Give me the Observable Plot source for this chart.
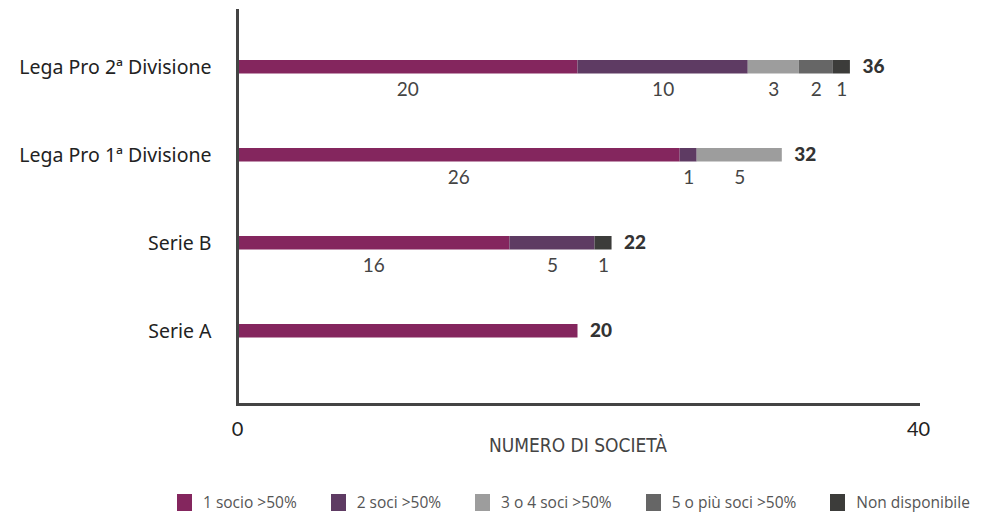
<!DOCTYPE html>
<html>
<head>
<meta charset="utf-8">
<script src="https://cdn.jsdelivr.net/npm/d3@7"></script>
<script src="https://cdn.jsdelivr.net/npm/@observablehq/plot@0.6"></script>
<style>
  body { margin: 0; background: #fff; }
  #chart { width: 981px; height: 490px; }
  .legend { display: flex; justify-content: flex-start; gap: 34px; margin-top: 2px; padding-left: 177px;
            font-family: "Open Sans", sans-serif; font-size: 15.5px; line-height: 20px; color: #555; }
  .legend .item { display: flex; align-items: center; gap: 11px; white-space: nowrap; }
  .legend .sw { width: 15px; height: 17px; display: inline-block; }
</style>
</head>
<body>
<div id="chart"></div>
<script>
const categories = ["Lega Pro 2ª Divisione", "Lega Pro 1ª Divisione", "Serie B", "Serie A"];
const seriesNames = ["1 socio >50%", "2 soci >50%", "3 o 4 soci >50%", "5 o più soci >50%", "Non disponibile"];
const colors = ["#84265e", "#5e3b63", "#9d9d9d", "#666666", "#3c3c3a"];
const s1 = [20, 26, 16, 20];
const s2 = [10, 1, 5, 0];
const s3 = [3, 5, 0, 0];
const s4 = [2, 0, 0, 0];
const s5 = [1, 0, 1, 0];
const totals = [36, 32, 22, 20];
const xTicks = [0, 40];

const seriesValues = [s1, s2, s3, s4, s5];
const rows = [];
categories.forEach((c, i) => {
  let x1 = 0;
  seriesValues.forEach((arr, k) => {
    const v = arr[i];
    if (v > 0) rows.push({cat: c, series: seriesNames[k], value: v, x1, x2: x1 + v, total: totals[i]});
    x1 += v;
  });
});
const segLabels = rows.filter(d => d.value !== d.total);
const totalRows = categories.map((c, i) => ({cat: c, total: totals[i]}));

const plot = Plot.plot({
  width: 981,
  height: 490,
  marginLeft: 237,
  marginRight: 63,
  marginTop: 10,
  marginBottom: 86,
  x: {domain: [0, 40]},
  y: {domain: categories, range: [22, 376], padding: 0},
  color: {domain: seriesNames, range: colors},
  style: {background: "#fff"},
  marks: [
    Plot.barX(rows, {x1: "x1", x2: "x2", y: "cat", fill: "series", insetTop: 37, insetBottom: 37.5}),
    Plot.text(segLabels, {x: d => (d.x1 + d.x2) / 2, y: "cat", text: d => String(d.value), dy: 22,
      fontSize: 19, fill: "#444", fontFamily: "Lato, sans-serif", fontWeight: 400}),
    Plot.text(totalRows, {x: "total", y: "cat", text: d => String(d.total), dx: 12, dy: -1, textAnchor: "start",
      fontSize: 19, fill: "#333", fontFamily: "Lato, sans-serif", fontWeight: 900}),
    Plot.axisY({tickSize: 0, tickPadding: 26, label: null, fontSize: 19.5, fill: "#222",
      fontFamily: "'Noto Sans', sans-serif"}),
    Plot.axisX({ticks: xTicks, tickSize: 0, tickPadding: 17, label: null, fontSize: 20, fill: "#222",
      fontFamily: "Lato, sans-serif", tickFormat: d => String(d)}),
    Plot.frame({anchor: "left", stroke: "#444", strokeWidth: 3}),
    Plot.frame({anchor: "bottom", stroke: "#444", strokeWidth: 3}),
    Plot.text(["NUMERO DI SOCIETÀ"], {frameAnchor: "bottom", dy: 47, text: d => d, fontSize: 19,
      fill: "#444", fontFamily: "'DejaVu Sans Condensed', 'Liberation Sans Narrow', sans-serif"})
  ]
});
document.getElementById("chart").appendChild(plot);

const legend = document.createElement("div");
legend.className = "legend";
seriesNames.forEach((n, k) => {
  const it = document.createElement("div");
  it.className = "item";
  const sw = document.createElement("span");
  sw.className = "sw";
  sw.style.background = colors[k];
  const t = document.createElement("span");
  t.textContent = n;
  it.appendChild(sw); it.appendChild(t);
  legend.appendChild(it);
});
document.body.appendChild(legend);
</script>
</body>
</html>
